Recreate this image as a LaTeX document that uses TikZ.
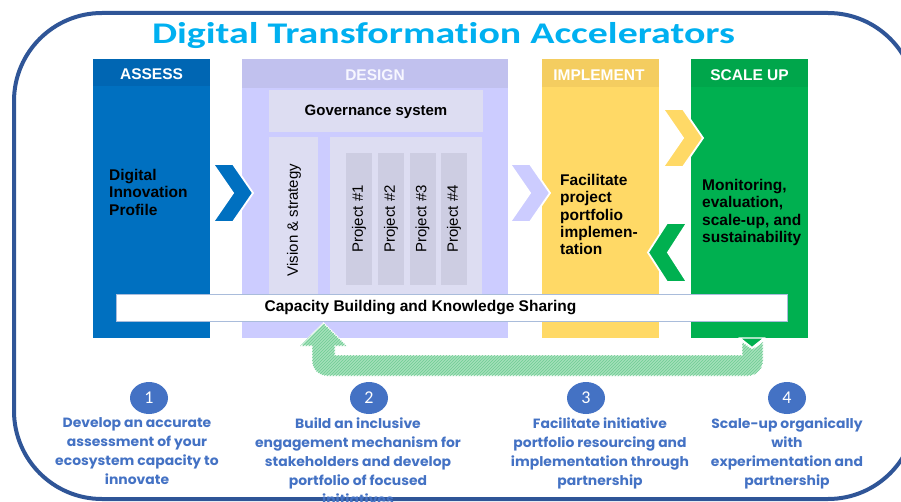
\documentclass[tikz,border=0pt]{standalone}
\usepackage{fontspec}
\setmainfont{Liberation Sans}
\newfontfamily\titlefont{Carlito}[FakeStretch=1.33, Ligatures={NoCommon}]
\newfontfamily\numfont{Carlito}
\newfontfamily\stepfont{Poppins}[FakeStretch=1.04]
\usetikzlibrary{patterns,shapes.geometric}

\definecolor{frameblue}{HTML}{2F5597}
\definecolor{titleblue}{HTML}{00B0F0}
\definecolor{assessbody}{HTML}{0070C0}
\definecolor{assesshead}{HTML}{0066B3}
\definecolor{designbody}{HTML}{CCCCFF}
\definecolor{designhead}{HTML}{C1C1EE}
\definecolor{designinner}{HTML}{DDDDF2}
\definecolor{projectbar}{HTML}{CDCDE2}
\definecolor{implbody}{HTML}{FFD966}
\definecolor{implhead}{HTML}{F4CD60}
\definecolor{scalebody}{HTML}{00B050}
\definecolor{scalehead}{HTML}{00A64B}
\definecolor{stepblue}{HTML}{4472C4}
\definecolor{loopgreen}{HTML}{A4E0BA}
\definecolor{loopline}{HTML}{6ECC93}
\definecolor{barline}{HTML}{A9BCDB}

\newcommand\chevR[3]{% colour, left x, top y: right-pointing chevron
  \filldraw[fill=#1, draw=white, line width=1.8] (#2,#3) -- ++(20,0) -- ++(20,29) -- ++(-20,29) -- ++(-20,0) -- ++(20,-29) -- cycle;}
\newcommand\chevL[3]{% colour, tip x, tip y: left-pointing chevron
  \filldraw[fill=#1, draw=white, line width=1.8] (#2,#3) -- ++(19,-29.5) -- ++(20,0) -- ++(-19,29.5) -- ++(19,29.5) -- ++(-20,0) -- cycle;}

\tikzset{
  column/.style={anchor=north west, inner sep=0, minimum width=117, minimum height=279},
  headtext/.style={font=\fontsize{15.5}{17}\selectfont\bfseries, text=white, inner sep=0},
  bodytext/.style={font=\fontsize{15.5}{17.3}\selectfont\bfseries, align=left, inner sep=0, anchor=north west},
  panel/.style={fill=designinner, inner sep=0, anchor=north west},
  projbar/.style={fill=projectbar, inner sep=0, minimum width=132, minimum height=26, rotate=90, font=\fontsize{15}{17}\selectfont},
  stepdot/.style={ellipse, fill=stepblue, text=white, inner sep=0, minimum width=38, minimum height=32, font=\numfont\fontsize{18}{20}\selectfont},
  steptext/.style={font=\stepfont\fontsize{13.4}{19}\selectfont\bfseries, text=stepblue, align=center, anchor=north, inner sep=0},
}

\begin{document}
\begin{tikzpicture}[x=1pt,y=-1pt]
\useasboundingbox (0,0) rectangle (901,502);

% outer frame
\draw[frameblue, line width=4, rounded corners=88] (14,13) rectangle (916,499);

% title
\node[font=\titlefont\fontsize{30}{34}\selectfont\bfseries, text=titleblue, anchor=base, inner sep=0] (title) at (443.5,44) {Digital Transformation Accelerators};

% four phase columns
\node[column, fill=assessbody] (assess) at (93,59) {};
\fill[assesshead] (93,59) rectangle (210,86);
\node[headtext] (assesslbl) at (151.5,74) {ASSESS};

\node[column, fill=designbody, minimum width=266] (design) at (242,59) {};
\fill[designhead] (242,59) rectangle (508,88);
\node[headtext, text=white!85!designbody] (designlbl) at (375,75) {DESIGN};

\node[column, fill=implbody] (impl) at (542,59) {};
\fill[implhead] (542,59) rectangle (659,87);
\node[headtext] (impllbl) at (599,75.5) {IMPLEMENT};

\node[column, fill=scalebody] (scale) at (691,59) {};
\fill[scalehead] (691,59) rectangle (808,87);
\node[headtext] (scalelbl) at (749.5,75.5) {SCALE UP};

% design internals
\node[panel, minimum width=214, minimum height=42] (gov) at (269,90) {};
\node[font=\fontsize{15}{17}\selectfont\bfseries, inner sep=0] (govlbl) at (376,112) {Governance system};
\node[panel, minimum width=49, minimum height=163] (vision) at (269,137) {};
\node[rotate=90, font=\fontsize{15}{17}\selectfont, inner sep=0] (visionlbl) at (294,220) {Vision \& strategy};
\node[panel, minimum width=152, minimum height=163] (projects) at (330,137) {};
\node[projbar] (p1) at (359,219) {Project \#1};
\node[projbar] (p2) at (391,219) {Project \#2};
\node[projbar] (p3) at (422.5,219) {Project \#3};
\node[projbar] (p4) at (454,219) {Project \#4};

% body texts
\node[bodytext] (assesstxt) at (109,169) {Digital\\Innovation\\Profile};
\node[bodytext] (impltxt) at (560,174) {Facilitate\\project\\portfolio\\implemen-\\tation};
\node[bodytext] (scaletxt) at (702,179) {Monitoring,\\evaluation,\\scale-up, and\\sustainability};

% chevrons between the phases
\chevR{assessbody}{213}{164}
\chevR{designbody}{510}{164}
\chevR{implbody}{663}{109}
\chevL{scalebody}{648}{252.5}

% capacity building bar
\node[draw=barline, line width=1, fill=white, anchor=north west, inner sep=0, minimum width=671, minimum height=27] (capbar) at (116,294) {};
\node[font=\fontsize{15.5}{17}\selectfont\bfseries, inner sep=0] (caplbl) at (420.5,307.5) {Capacity Building and Knowledge Sharing};

% feedback loop arrow from scale-up back to design
\fill[scalebody, draw=white, line width=1.2] (740,338) -- (764,338) -- (752,347.5) -- cycle;
\filldraw[fill=loopgreen, draw=white, line width=1.2]
  (742,342) -- (752.5,349) -- (763,342) -- (763,361) [rounded corners=15] -- (763,376) -- (312,376) [sharp corners] -- (312,346)
  -- (300,346) -- (323.5,323) -- (347,346) -- (335,346) -- (335,355) -- (742,355) -- cycle;
\fill[pattern=north east lines, pattern color=loopline]
  (742,342) -- (752.5,349) -- (763,342) -- (763,361) [rounded corners=15] -- (763,376) -- (312,376) [sharp corners] -- (312,346)
  -- (300,346) -- (323.5,323) -- (347,346) -- (335,346) -- (335,355) -- (742,355) -- cycle;

% numbered steps
\node[stepdot] (s1) at (149,398) {1};
\node[stepdot] (s2) at (369,398) {2};
\node[stepdot] (s3) at (586,398) {3};
\node[stepdot] (s4) at (787,398) {4};

\node[steptext] (t1) at (137,417.5) {Develop an accurate\\assessment of your\\ecosystem capacity to\\innovate};
\node[steptext] (t2) at (358,417.5) {Build an inclusive\\engagement mechanism for\\stakeholders and develop\\portfolio of focused\\initiatives};
\node[steptext] (t3) at (600,417.5) {Facilitate initiative\\portfolio resourcing and\\implementation through\\partnership};
\node[steptext] (t4) at (787,417.5) {Scale-up organically\\with\\experimentation and\\partnership};
\end{tikzpicture}
\end{document}
